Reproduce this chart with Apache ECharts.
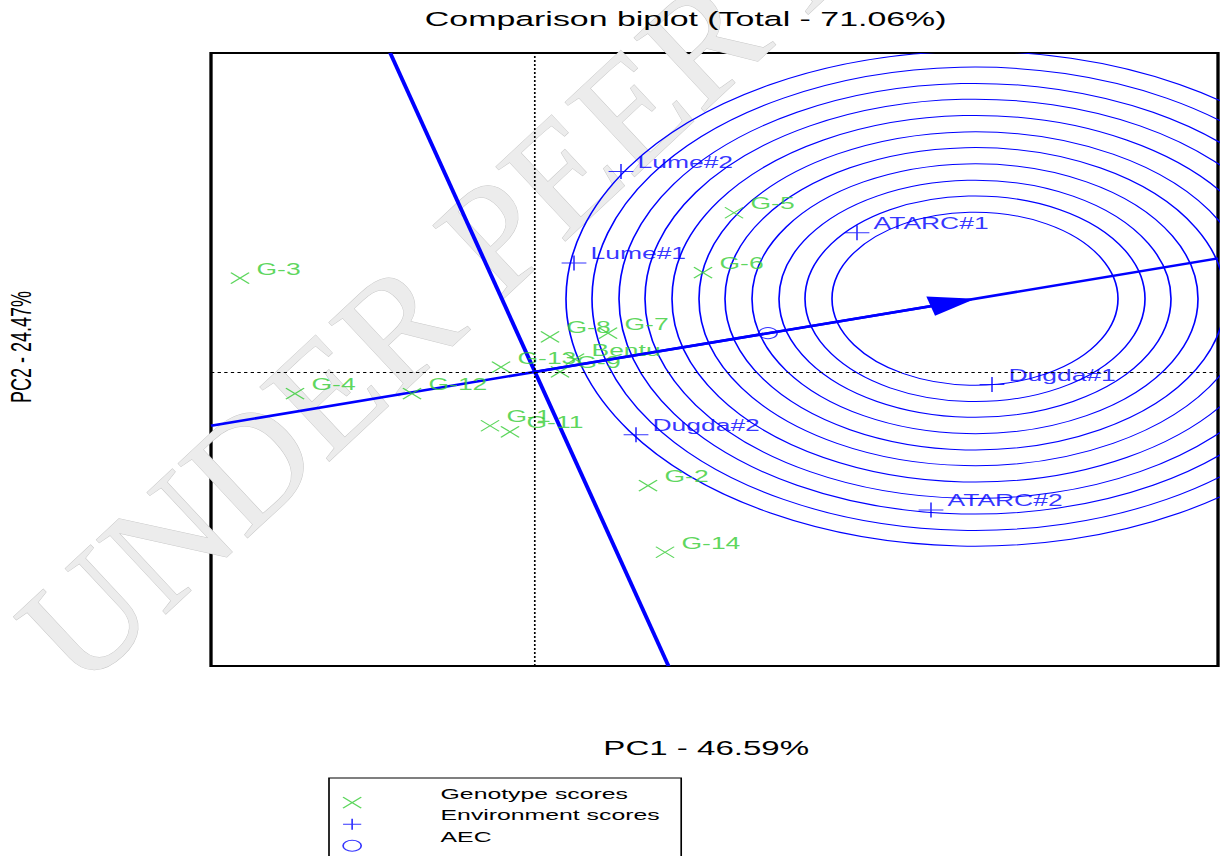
<!DOCTYPE html>
<html>
<head>
<meta charset="utf-8">
<title>Comparison biplot</title>
<script src="https://cdn.jsdelivr.net/npm/echarts/dist/echarts.min.js"></script>
<style>
  html, body { margin: 0; padding: 0; background: #fff; overflow: hidden; }
  /* the source picture is stretched horizontally; draw at native aspect and stretch the same way */
  #chart { width: 738px; height: 856px; transform: scaleX(1.653117); transform-origin: 0 0; }
</style>
</head>
<body>
<div id="chart"></div>
<script>
// PC scores
const genoNames = ['G-1', 'G-2', 'G-3', 'G-4', 'G-5', 'G-6', 'G-7', 'G-8', 'G-9', 'G-11', 'G-12', 'G-13', 'G-14', 'Bentu'];
const genoPC1 = [-0.45, 1.13, -2.95, -2.40, 1.99, 1.68, 0.73, 0.15, 0.25, -0.25, -1.23, -0.34, 1.30, 0.40];
const genoPC2 = [-0.89, -1.88, 1.55, -0.36, 2.63, 1.64, 0.64, 0.58, 0.00, -0.99, -0.36, 0.08, -2.98, 0.21];

const envNames = ['Lume#1', 'Lume#2', 'ATARC#1', 'ATARC#2', 'Dugda#1', 'Dugda#2'];
const envPC1 = [0.39, 0.86, 3.22, 3.96, 4.57, 1.01];
const envPC2 = [1.80, 3.31, 2.30, -2.28, -0.21, -1.04];

// average environment and ideal environment (centre of the rings)
const aec = [2.33, 0.64];
const idealPC1 = 4.40;
const ringRadii = [1.43, 1.70, 1.96, 2.23, 2.50, 2.76, 3.03, 3.30, 3.56, 3.83, 4.09];
const arrowBack = 0.22;

const xRange = [-3.24, 6.83];
const yRange = [-4.86, 5.27];

const GREEN = '#33cc33';
const BLUE = '#0000ff';
const FONT = '"Liberation Sans", Arial, sans-serif';
const S = 1.653117;

const slope = aec[1] / aec[0];
const ideal = [idealPC1, idealPC1 * slope];
const arrowX = idealPC1 - arrowBack;

// AEC abscissa and its perpendicular through the origin, across the plot
const aecLine = [[xRange[0], xRange[0] * slope], [xRange[1], xRange[1] * slope]];
const perpLine = [[-yRange[1] * slope, yRange[1]], [-yRange[0] * slope, yRange[0]]];

const crossPath = 'path://M0,0L10,10M10,0L0,10';
const plusPath = 'path://M0,5L10,5M5,0L5,10';
// legend icons sit a little below their text: the leading moveTo lifts the icon box
const crossIcon = 'path://M5,-17M0,0L10,10M10,0L0,10';
const plusIcon = 'path://M5,-17M0,5L10,5M5,0L5,10';
const ringIcon = 'path://M5,-17M0,5A5,5,0,1,1,10,5A5,5,0,1,1,0,5Z';

const chart = echarts.init(document.getElementById('chart'), null, { renderer: 'svg' });

chart.setOption({
  animation: false,
  backgroundColor: '#fff',
  title: {
    text: 'Comparison biplot (Total - 71.06%)',
    left: 257, top: 9, padding: 0,
    textStyle: { fontFamily: FONT, fontSize: 20.5, fontWeight: 'normal', color: '#000' }
  },
  graphic: [{
    type: 'group', x: 98 / S, y: 712, scaleX: 1 / S, z: -10, silent: true,
    children: [{
      type: 'text', rotation: 43 * Math.PI / 180,
      style: {
        text: 'UNDER PEER REVIEW', fontFamily: '"Liberation Serif", serif', fontSize: 155,
        fill: '#ececec', stroke: '#c8c8c8', lineWidth: 1, align: 'left', verticalAlign: 'bottom'
      }
    }]
  }],
  grid: {
    left: 211 / S, right: 738 - 1218 / S, top: 53, bottom: 190,
    outerBoundsMode: 'none', containLabel: false,
    show: true, borderColor: '#000', borderWidth: 2, backgroundColor: 'transparent'
  },
  legend: {
    orient: 'vertical', left: 329 / S, top: 778, height: 150,
    padding: [0, 13, 12, 8],
    borderColor: '#000', borderWidth: 1,
    itemWidth: 21, itemHeight: 29.7, itemGap: -9.2,
    itemStyle: { borderWidth: 1 },
    textStyle: { fontFamily: FONT, fontSize: 15, color: '#000', padding: [0, 0, 0, 38] },
    data: [
      { name: 'Genotype scores', icon: crossIcon },
      { name: 'Environment scores', icon: plusIcon },
      { name: 'AEC', icon: ringIcon }
    ]
  },
  xAxis: {
    type: 'value', min: xRange[0], max: xRange[1],
    axisLine: { show: false }, axisTick: { show: false }, axisLabel: { show: false }, splitLine: { show: false },
    name: 'PC1 - 46.59%', nameLocation: 'middle', nameGap: 72,
    nameTextStyle: { fontFamily: FONT, fontSize: 20, color: '#000', padding: [0, 10, 0, 0] }
  },
  yAxis: {
    type: 'value', min: yRange[0], max: yRange[1],
    axisLine: { show: false }, axisTick: { show: false }, axisLabel: { show: false }, splitLine: { show: false },
    name: 'PC2 - 24.47%', nameLocation: 'middle', nameGap: 106,
    nameTextStyle: { fontFamily: FONT, fontSize: 18, color: '#000', padding: [0, 0, 0, 25] }
  },
  series: [
    {
      name: 'rings', type: 'custom', clip: true, silent: true, z: 1,
      encode: { x: 0, y: 1 },
      data: ringRadii.map(r => [ideal[0], ideal[1], r]),
      renderItem: function (params, api) {
        const c = api.coord([api.value(0), api.value(1)]);
        const r = api.size([api.value(2), 0])[0];
        return {
          type: 'circle',
          shape: { cx: c[0], cy: c[1], r: r },
          style: { fill: 'none', stroke: BLUE, lineWidth: 1 }
        };
      }
    },
    {
      name: 'AEC abscissa', type: 'line', data: aecLine, symbol: 'none', silent: true, z: 2,
      lineStyle: { color: BLUE, width: 2.5 },
      markLine: {
        silent: true, symbol: ['none', 'triangle'], symbolSize: [20, 28],
        lineStyle: { color: BLUE, width: 2.5, type: 'solid' },
        label: { show: false },
        data: [[{ coord: [0, 0] }, { coord: [arrowX, arrowX * slope] }]]
      }
    },
    {
      name: 'AEC ordinate', type: 'line', data: perpLine, symbol: 'none', silent: true, z: 2,
      lineStyle: { color: BLUE, width: 2.5 }
    },
    {
      name: 'Genotype scores', type: 'scatter', z: 3,
      symbol: crossPath, symbolSize: 11,
      itemStyle: { color: 'rgba(0,0,0,0)', borderColor: GREEN, borderWidth: 1 },
      label: {
        show: true, position: 'right', distance: 4, offset: [0, -9],
        formatter: p => p.data[2], color: GREEN, fontFamily: FONT, fontSize: 16
      },
      data: genoNames.map((n, i) => [genoPC1[i], genoPC2[i], n]),
      markLine: {
        silent: true, symbol: ['none', 'none'],
        lineStyle: { color: '#000', width: 1, type: [2, 2] },
        label: { show: false },
        data: [{ xAxis: 0 }, { yAxis: 0 }]
      }
    },
    {
      name: 'Environment scores', type: 'scatter', z: 3,
      symbol: plusPath, symbolSize: 15,
      itemStyle: { color: 'rgba(0,0,0,0)', borderColor: BLUE, borderWidth: 1 },
      label: {
        show: true, position: 'right', distance: 2, offset: [0, -9],
        formatter: p => p.data[2], color: BLUE, fontFamily: FONT, fontSize: 16
      },
      data: envNames.map((n, i) => [envPC1[i], envPC2[i], n])
    },
    {
      name: 'AEC', type: 'scatter', z: 3,
      symbol: 'circle', symbolSize: 11,
      itemStyle: { color: 'rgba(0,0,0,0)', borderColor: BLUE, borderWidth: 1 },
      data: [aec]
    }
  ]
});
</script>
</body>
</html>
